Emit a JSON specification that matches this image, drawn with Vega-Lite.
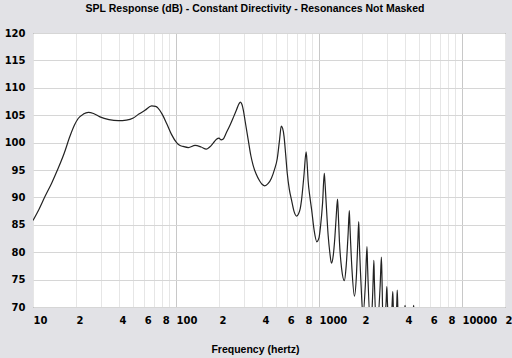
{
  "$schema": "https://vega.github.io/schema/vega-lite/v6.json",
  "autosize": {"type": "none"},
  "width": 472,
  "height": 274,
  "padding": {"left": 33, "top": 33, "right": 7, "bottom": 51},
  "background": "#e2e2e6",
  "title": {
    "text": "SPL Response (dB) - Constant Directivity - Resonances Not Masked",
    "anchor": "middle",
    "frame": "group",
    "dx": -14,
    "offset": 14,
    "font": "Liberation Sans",
    "fontSize": 10.5,
    "fontWeight": "bold",
    "color": "#000000"
  },
  "config": {
    "view": {"stroke": "#555555", "strokeWidth": 1, "fill": "#ffffff"}
  },
  "data": {
    "values": [
      {"f": 10, "db": 85.8}, {"f": 11, "db": 87.8}, {"f": 12.1, "db": 90.1}, {"f": 13.5, "db": 92.6},
      {"f": 15, "db": 95.3}, {"f": 16.5, "db": 98.0}, {"f": 18.1, "db": 101.1}, {"f": 19.5, "db": 103.2},
      {"f": 20.7, "db": 104.4}, {"f": 22.5, "db": 105.2}, {"f": 24.4, "db": 105.5}, {"f": 26.5, "db": 105.3},
      {"f": 29.4, "db": 104.7}, {"f": 34, "db": 104.2}, {"f": 39.5, "db": 104.0}, {"f": 45, "db": 104.1},
      {"f": 50.3, "db": 104.5}, {"f": 55, "db": 105.2}, {"f": 60.7, "db": 105.9}, {"f": 67.6, "db": 106.7},
      {"f": 72, "db": 106.6}, {"f": 74.9, "db": 106.3}, {"f": 80, "db": 105.2}, {"f": 86, "db": 103.5},
      {"f": 93, "db": 101.5}, {"f": 101, "db": 100.0}, {"f": 106, "db": 99.5}, {"f": 112, "db": 99.3},
      {"f": 122, "db": 99.1}, {"f": 136, "db": 99.5}, {"f": 150, "db": 99.2}, {"f": 163, "db": 98.8},
      {"f": 172, "db": 99.2}, {"f": 182, "db": 99.9}, {"f": 192, "db": 100.6}, {"f": 200, "db": 100.8},
      {"f": 207, "db": 100.5}, {"f": 213, "db": 100.6}, {"f": 225, "db": 101.8}, {"f": 239, "db": 103.2},
      {"f": 252, "db": 104.6}, {"f": 266, "db": 106.1}, {"f": 276, "db": 107.1}, {"f": 282, "db": 107.4},
      {"f": 289, "db": 107.0}, {"f": 296, "db": 105.9}, {"f": 305, "db": 103.8}, {"f": 320, "db": 100.5},
      {"f": 334, "db": 97.6}, {"f": 346, "db": 95.9}, {"f": 363, "db": 94.3}, {"f": 385, "db": 93.0},
      {"f": 400, "db": 92.4}, {"f": 418, "db": 92.1}, {"f": 440, "db": 92.5}, {"f": 465, "db": 93.5},
      {"f": 490, "db": 95.2}, {"f": 511, "db": 97.1}, {"f": 530, "db": 100.5}, {"f": 545, "db": 103.0},
      {"f": 557, "db": 102.6}, {"f": 570, "db": 101.1}, {"f": 585, "db": 97.8}, {"f": 600, "db": 94.4},
      {"f": 620, "db": 91.5}, {"f": 643, "db": 89.5}, {"f": 670, "db": 87.4}, {"f": 697, "db": 86.6},
      {"f": 720, "db": 87.0}, {"f": 740, "db": 88.0}, {"f": 755, "db": 89.5}, {"f": 785, "db": 94.0},
      {"f": 813, "db": 98.3}, {"f": 825, "db": 96.5}, {"f": 840, "db": 93.0}, {"f": 865, "db": 90.0},
      {"f": 889, "db": 87.7}, {"f": 925, "db": 84.0}, {"f": 966, "db": 81.9}, {"f": 1000, "db": 82.6},
      {"f": 1025, "db": 84.7}, {"f": 1060, "db": 89.0}, {"f": 1089, "db": 94.4}, {"f": 1100, "db": 93.0},
      {"f": 1120, "db": 89.5}, {"f": 1160, "db": 83.0}, {"f": 1190, "db": 80.0}, {"f": 1223, "db": 78.0},
      {"f": 1260, "db": 79.5}, {"f": 1290, "db": 82.5}, {"f": 1320, "db": 86.5}, {"f": 1348, "db": 89.7},
      {"f": 1360, "db": 88.0}, {"f": 1390, "db": 82.0}, {"f": 1440, "db": 77.0}, {"f": 1506, "db": 74.8},
      {"f": 1550, "db": 77.5}, {"f": 1600, "db": 83.5}, {"f": 1630, "db": 87.6}, {"f": 1645, "db": 85.0},
      {"f": 1700, "db": 77.0}, {"f": 1770, "db": 72.0}, {"f": 1830, "db": 76.0}, {"f": 1870, "db": 82.0},
      {"f": 1897, "db": 85.6}, {"f": 1915, "db": 82.0}, {"f": 1970, "db": 74.0}, {"f": 2030, "db": 68.5},
      {"f": 2110, "db": 74.0}, {"f": 2166, "db": 81.0}, {"f": 2190, "db": 77.0}, {"f": 2300, "db": 66.0},
      {"f": 2380, "db": 73.0}, {"f": 2421, "db": 78.5}, {"f": 2440, "db": 75.0}, {"f": 2540, "db": 66.0},
      {"f": 2680, "db": 74.0}, {"f": 2733, "db": 79.1}, {"f": 2760, "db": 75.0}, {"f": 2810, "db": 66.0},
      {"f": 2950, "db": 71.0}, {"f": 2982, "db": 73.7}, {"f": 3010, "db": 71.0}, {"f": 3100, "db": 66.0},
      {"f": 3240, "db": 70.0}, {"f": 3283, "db": 72.8}, {"f": 3310, "db": 70.0}, {"f": 3400, "db": 66.0},
      {"f": 3500, "db": 70.5}, {"f": 3527, "db": 73.1}, {"f": 3560, "db": 70.0}, {"f": 3620, "db": 66.0},
      {"f": 3850, "db": 66.0}, {"f": 4000, "db": 70.3}, {"f": 4100, "db": 67.0}, {"f": 4350, "db": 65.0},
      {"f": 4600, "db": 70.3}, {"f": 4700, "db": 66.0}, {"f": 5000, "db": 60.0}
    ]
  },
  "mark": {"type": "line", "clip": true, "interpolate": "monotone", "color": "#222222", "strokeWidth": 1.2},
  "encoding": {
    "x": {
      "field": "f",
      "type": "quantitative",
      "scale": {"type": "log", "domain": [10, 20000], "nice": false},
      "axis": {
        "values": [10, 20, 30, 40, 50, 60, 70, 80, 90, 100, 200, 300, 400, 500, 600, 700, 800, 900, 1000, 2000, 3000, 4000, 5000, 6000, 7000, 8000, 9000, 10000, 20000],
        "labelExpr": "round(datum.value/pow(10,floor(log(datum.value)/LN10+1e-6)))==1 ? format(datum.value,'d') : (round(datum.value/pow(10,floor(log(datum.value)/LN10+1e-6)))%2==0 ? ''+round(datum.value/pow(10,floor(log(datum.value)/LN10+1e-6))) : '')",
        "labelAlign": "left",
        "labelDx": -3,
        "labelBaseline": "top",
        "labelPadding": 8,
        "labelFlush": false,
        "labelOverlap": false,
        "labelFont": "DejaVu Sans",
        "labelFontWeight": "bold",
        "labelFontSize": 10,
        "labelColor": "#000000",
        "ticks": false,
        "tickSize": 0,
        "domain": false,
        "grid": true,
        "gridColor": {"condition": {"test": "datum.value == 100 || datum.value == 1000 || datum.value == 10000", "value": "#c8c8c8"}, "value": "#e6e6e6"},
        "gridWidth": 1,
        "title": "Frequency (hertz)",
        "titleFont": "Liberation Sans",
        "titleFontSize": 10.5,
        "titleFontWeight": "bold",
        "titleColor": "#000000",
        "titleAnchor": null,
        "titleX": 222,
        "titleY": 45,
        "titleAlign": "center",
        "titleBaseline": "alphabetic"
      }
    },
    "y": {
      "field": "db",
      "type": "quantitative",
      "scale": {"domain": [70, 120], "nice": false, "zero": false},
      "axis": {
        "values": [70, 75, 80, 85, 90, 95, 100, 105, 110, 115, 120],
        "labelFlush": false,
        "labelOverlap": false,
        "labelPadding": 8,
        "labelFont": "DejaVu Sans",
        "labelFontWeight": "bold",
        "labelFontSize": 10,
        "labelColor": "#000000",
        "ticks": false,
        "tickSize": 0,
        "domain": false,
        "grid": true,
        "gridColor": "#d6d6d6",
        "title": null
      }
    }
  }
}
